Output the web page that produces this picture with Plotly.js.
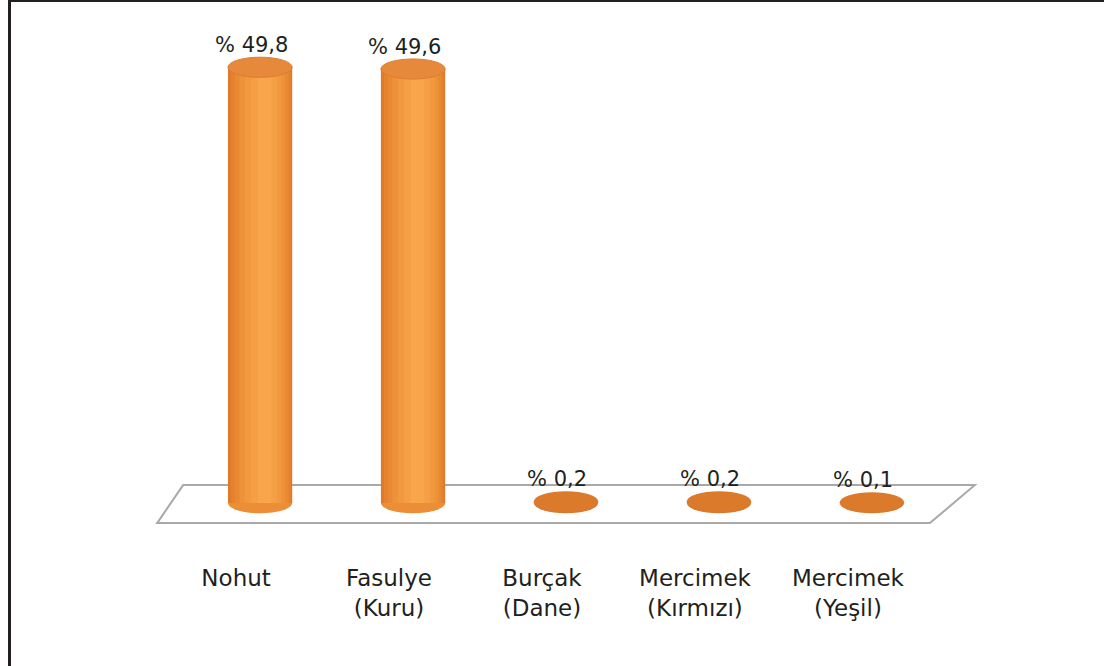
<!DOCTYPE html>
<html>
<head>
<meta charset="utf-8">
<script src="https://cdn.plot.ly/plotly-3.0.1.min.js"></script>
<style>
  html, body { margin: 0; padding: 0; background: #ffffff; }
  #wrap { position: relative; width: 1104px; height: 666px; overflow: hidden; }
  #chart { position: absolute; left: 0; top: 0; width: 1104px; height: 666px; }
  #frame { position: absolute; left: 8px; top: 0; width: 1096px; height: 666px;
           border-left: 3px solid #231f20; border-top: 2px solid #231f20; pointer-events: none; }
</style>
</head>
<body>
<div id="wrap">
  <div id="chart"></div>
  <div id="frame"></div>
</div>
<script>
// ---- data ----
const categories = ["Nohut", "Fasulye<br>(Kuru)", "Burçak<br>(Dane)", "Mercimek<br>(Kırmızı)", "Mercimek<br>(Yeşil)"];
const values = [49.8, 49.6, 0.2, 0.2, 0.1];
const labelPrefix = "% ";

// ---- styling ----
const positions = categories.map((c, i) => i);
const barWidth = 0.42;
const capHalfHeight = 1.15;
const layers = [
  { w: 0.42, off: 0.000, color: "#de7a2a" },
  { w: 0.39, off: 0.005, color: "#e4822e" },
  { w: 0.35, off: 0.010, color: "#e98a33" },
  { w: 0.30, off: 0.015, color: "#ee9239" },
  { w: 0.24, off: 0.020, color: "#f2993f" },
  { w: 0.17, off: 0.025, color: "#f59f45" },
  { w: 0.09, off: 0.030, color: "#f8a54b" }
];

const traces = layers.map(L => ({
  type: "bar",
  x: positions.map(p => p + L.off),
  y: values,
  width: L.w,
  marker: { color: L.color, line: { width: 0 } },
  showlegend: false,
  hoverinfo: "skip"
}));

const shapes = [];
// floor (decorative plane)
shapes.push({
  type: "path", xref: "x", yref: "y", layer: "below",
  path: "M -0.673 -2.28 L -0.503 2.06 L 4.673 2.06 L 4.379 -2.28 Z",
  fillcolor: "#ffffff", line: { color: "#a9a9a9", width: 2 }
});
// bottom and top caps of each cylinder, derived from the data
positions.forEach((p, i) => {
  const v = values[i];
  shapes.push({
    type: "circle", xref: "x", yref: "y", layer: "below",
    x0: p - barWidth / 2, x1: p + barWidth / 2,
    y0: -capHalfHeight, y1: capHalfHeight,
    fillcolor: v < 1 ? "#da782b" : "#ec8e36", line: { width: 0 }
  });
  shapes.push({
    type: "circle", xref: "x", yref: "y", layer: "above",
    x0: p - barWidth / 2, x1: p + barWidth / 2,
    y0: v - capHalfHeight, y1: v + capHalfHeight,
    fillcolor: v < 1 ? "#dc7a2c" : "#e6893a", line: { width: v < 1 ? 0 : 1, color: "#dc7d30" }
  });
});

const annotations = positions.map((p, i) => ({
  x: p, y: values[i] + capHalfHeight, xref: "x", yref: "y",
  text: labelPrefix + values[i].toFixed(1).replace(".", ","),
  showarrow: false, yanchor: "bottom", xanchor: "center",
  xshift: -9, yshift: -2,
  font: { family: "DejaVu Sans", size: 21, color: "#231f20" }
}));

const layout = {
  width: 1104, height: 666,
  margin: { l: 153, r: 125, t: 48, b: 141 },
  paper_bgcolor: "rgba(0,0,0,0)", plot_bgcolor: "rgba(0,0,0,0)",
  barmode: "overlay",
  hovermode: false,
  showlegend: false,
  separators: ", ",
  xaxis: {
    range: [-0.7, 4.7],
    tickmode: "array", tickvals: positions, ticktext: categories,
    showgrid: false, zeroline: false, showline: false, ticks: "",
    ticklabelshift: -24, ticklabelstandoff: 37,
    tickfont: { family: "DejaVu Sans", size: 23, color: "#231f20" },
    fixedrange: true
  },
  yaxis: {
    range: [-2.5, 52],
    showgrid: false, zeroline: false, showline: false, showticklabels: false, ticks: "",
    fixedrange: true
  },
  shapes: shapes,
  annotations: annotations
};

Plotly.newPlot("chart", traces, layout, { displayModeBar: false, staticPlot: true });
</script>
</body>
</html>
